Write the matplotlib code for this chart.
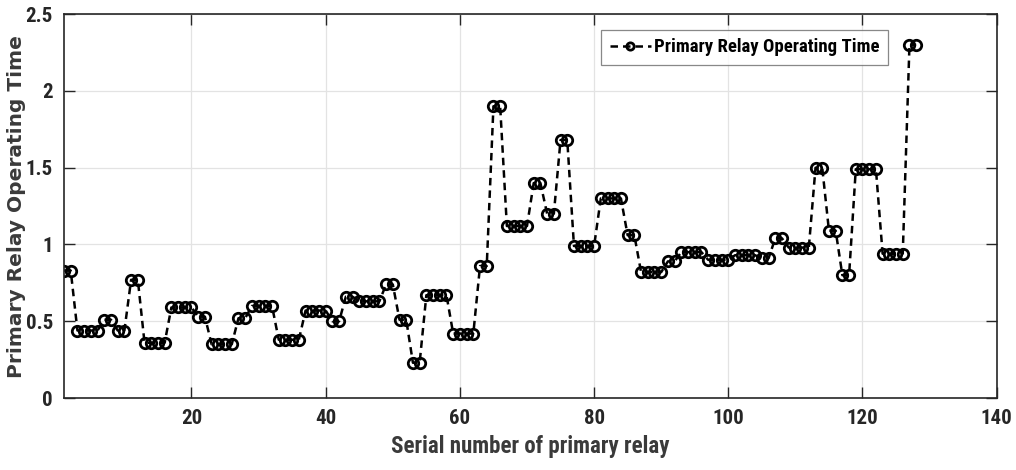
import matplotlib
matplotlib.use("Agg")
import matplotlib.pyplot as plt
from matplotlib import font_manager

relay_ids = list(range(1, 129))
operating_time = [
    0.83, 0.83, 0.44, 0.44, 0.44, 0.44, 0.51, 0.51, 0.44, 0.44,
    0.77, 0.77, 0.36, 0.36, 0.36, 0.36, 0.59, 0.59, 0.59, 0.59,
    0.53, 0.53, 0.35, 0.35, 0.35, 0.35, 0.52, 0.52, 0.60, 0.60,
    0.60, 0.60, 0.38, 0.38, 0.38, 0.38, 0.57, 0.57, 0.57, 0.57,
    0.50, 0.50, 0.66, 0.66, 0.63, 0.63, 0.63, 0.63, 0.74, 0.74,
    0.51, 0.51, 0.23, 0.23, 0.67, 0.67, 0.67, 0.67, 0.42, 0.42,
    0.42, 0.42, 0.86, 0.86, 1.90, 1.90, 1.12, 1.12, 1.12, 1.12,
    1.40, 1.40, 1.20, 1.20, 1.68, 1.68, 0.99, 0.99, 0.99, 0.99,
    1.30, 1.30, 1.30, 1.30, 1.06, 1.06, 0.82, 0.82, 0.82, 0.82,
    0.89, 0.89, 0.95, 0.95, 0.95, 0.95, 0.90, 0.90, 0.90, 0.90,
    0.93, 0.93, 0.93, 0.93, 0.91, 0.91, 1.04, 1.04, 0.98, 0.98,
    0.98, 0.98, 1.50, 1.50, 1.09, 1.09, 0.80, 0.80, 1.49, 1.49,
    1.49, 1.49, 0.94, 0.94, 0.94, 0.94, 2.30, 2.30,
]
x_ticks = [20, 40, 60, 80, 100, 120, 140]
y_ticks = [0, 0.5, 1, 1.5, 2, 2.5]
y_tick_labels = ["0", "0.5", "1", "1.5", "2", "2.5"]
series_label = "Primary Relay Operating Time"
x_label = "Serial number of primary relay"
y_label = "Primary Relay Operating Time"

names = {f.name for f in font_manager.fontManager.ttflist}
narrow = "Liberation Sans"
for pref in ["Roboto Condensed", "Archivo Narrow", "Liberation Sans Narrow"]:
    if pref in names:
        narrow = pref
        break

fig = plt.figure(figsize=(10.16, 4.70), dpi=100)
ax = fig.add_axes([0.063, 0.153, 0.918, 0.817])

line, = ax.plot(relay_ids, operating_time, color="black", linestyle="--",
                linewidth=1.8, marker="o", markersize=7.5, markerfacecolor="none",
                markeredgewidth=2.0, markeredgecolor="black", label=series_label)
line.set_dashes((3, 2))

ax.set_xlim(1, 140)
ax.set_ylim(0, 2.5)
ax.set_xticks(x_ticks)
ax.set_yticks(y_ticks)
ax.set_yticklabels(y_tick_labels)
ax.grid(True, color="#e3e3e3", linewidth=0.9)
ax.set_axisbelow(True)
ax.tick_params(direction="in", length=8, width=1.0, top=True, right=True,
               labelsize=15, pad=8, colors="#262626")
for lab in ax.get_xticklabels() + ax.get_yticklabels():
    lab.set_fontfamily(narrow)
    lab.set_fontweight("bold")
for s in ax.spines.values():
    s.set_linewidth(1.2)
    s.set_color("#262626")

ax.set_xlabel(x_label, fontsize=16.5, fontweight="bold", family=narrow,
              color="#3a3a3a", labelpad=5)
ax.set_ylabel(y_label, fontsize=14.5, fontweight="bold", family="DejaVu Sans",
              color="#3a3a3a")
ax.yaxis.set_label_coords(-0.041, 0.5)

leg = ax.legend(loc="upper right", bbox_to_anchor=(0.883, 0.959),
                borderaxespad=0, fancybox=False, handlelength=2.2,
                handletextpad=0.15, borderpad=0.45, markerscale=0.7,
                prop={"family": narrow, "weight": "bold", "size": 13.5})
leg.get_frame().set_edgecolor("#6a6a6a")
leg.get_frame().set_linewidth(0.9)

fig.savefig("out.png", dpi=100)
